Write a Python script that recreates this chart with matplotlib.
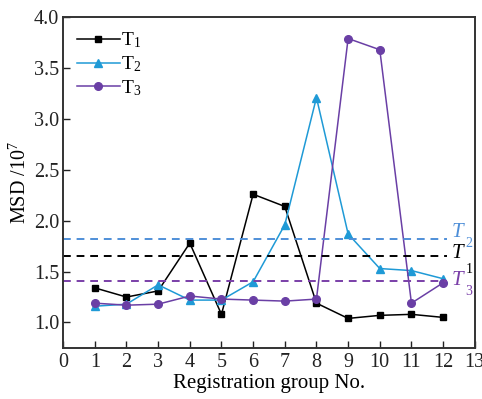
import numpy as np
import matplotlib
matplotlib.use("Agg")
import matplotlib.pyplot as plt

plt.rcParams['font.family'] = ['Liberation Serif', 'DejaVu Serif']
plt.rcParams['mathtext.fontset'] = 'custom'
plt.rcParams['mathtext.rm'] = 'Liberation Serif'
plt.rcParams['mathtext.it'] = 'Liberation Serif:italic'

groups = [1, 2, 3, 4, 5, 6, 7, 8, 9, 10, 11, 12]
t1 = [1.34, 1.25, 1.31, 1.78, 1.08, 2.26, 2.14, 1.19, 1.04, 1.07, 1.08, 1.05]
t2 = [1.16, 1.18, 1.37, 1.22, 1.22, 1.40, 1.96, 3.21, 1.87, 1.53, 1.51, 1.43]
t3 = [1.19, 1.17, 1.18, 1.26, 1.23, 1.22, 1.21, 1.23, 3.79, 3.68, 1.19, 1.39]
thresholds = {'1': 1.65, '2': 1.82, '3': 1.41}

c1 = '#000000'
c2 = '#1f9ad6'
c3 = '#6a3fa5'
c2_dash = '#4f8fd8'
c3_dash = '#7a3fa8'

fig = plt.figure(figsize=(4.82, 3.99), dpi=100)
ax = fig.add_axes([0.131, 0.128, 0.854, 0.829])

ax.plot(groups, t1, color=c1, marker='s', markersize=5, lw=1.1, label='T$_1$')
ax.plot(groups, t2, color=c2, marker='^', markersize=6, lw=1.1, label='T$_2$')
ax.plot(groups, t3, color=c3, marker='o', markersize=5.5, lw=1.1, label='T$_3$')

# threshold lines with T labels on the right
xmax = 0.932
dash_colors = {'1': c1, '2': c2_dash, '3': c3_dash}
# (T label y offset, subscript y offset) relative to the line
label_offsets = {'2': (0.06, -0.045), '1': (0.03, -0.13), '3': (0.0, -0.11)}
for k in ['2', '1', '3']:
    y = thresholds[k]
    col = dash_colors[k]
    ax.axhline(y, xmin=0, xmax=xmax, color=col, ls=(0, (4, 3)), lw=1.4)
    dy_t, dy_s = label_offsets[k]
    ax.text(12.28, y + dy_t, 'T', color=col, fontsize=15, fontstyle='italic',
            va='center', ha='left')
    ax.text(12.7, y + dy_s, k, color=col, fontsize=10, va='center', ha='left')

ax.set_xlim(0, 13)
ax.set_ylim(0.75, 4.0)
ax.set_xticks(range(0, 14))
ax.set_yticks([1.0, 1.5, 2.0, 2.5, 3.0, 3.5, 4.0])
ax.set_yticklabels(['1.0', '1.5', '2.0', '2.5', '3.0', '3.5', '4.0'])
ax.tick_params(direction='in', length=5, width=1, labelsize=14.5, colors='#222222')
ax.tick_params(axis='x', pad=4)
ax.tick_params(axis='y', pad=3)
for s in ax.spines.values():
    s.set_linewidth(1.4)
    s.set_color('#333333')

ax.set_xlabel('Registration group No.', fontsize=15, labelpad=1)
ax.set_ylabel('MSD /10$^7$', fontsize=14.5, labelpad=2)

ax.legend(loc='upper left', frameon=False, fontsize=14, handlelength=2.2,
          handletextpad=0.1, labelspacing=0.2, borderaxespad=0.3)

fig.savefig('out.png', dpi=100)
